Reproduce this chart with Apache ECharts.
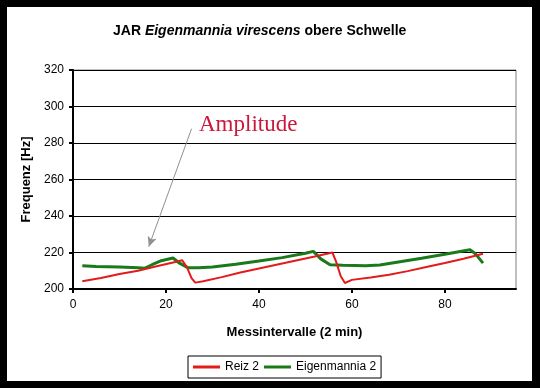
<!DOCTYPE html>
<html><head><meta charset="utf-8">
<script src="https://cdn.jsdelivr.net/npm/echarts@6/dist/echarts.min.js"></script>
<style>html,body{margin:0;padding:0;background:#000;width:540px;height:388px;overflow:hidden}
#c{position:absolute;left:7px;top:7px;width:525px;height:374px;background:#fff}</style>
</head><body><div id="c"></div>
<script>
// Reiz 2 (stimulus frequency) [interval, Hz]
const reiz2 = [[2,204.2],[6,206],[10,208.2],[14,210],[18,212.5],[22,214.8],[23.5,215.7],[24.5,212],[25.5,206],[26.3,203.5],[28,204.3],[32,206.5],[36,209],[40,211.2],[44,213.4],[48,215.6],[52,217.8],[55.8,220],[56.6,215],[57.6,207],[58.5,203.3],[60,205],[64,206.3],[68,207.8],[72,209.8],[76,212],[80,214.2],[84,216.6],[88.2,219.3]];
// Eigenmannia 2 (fish EOD frequency) [interval, Hz]
const eigen2 = [[2,212.8],[5,212.3],[10,212],[14,211.6],[15.5,211.4],[17,213.3],[19,215.5],[21.5,217],[23,214],[24.8,211.6],[27,211.7],[30,212],[35,213.6],[40,215.3],[45,217.2],[50,219.6],[51.7,220.6],[53.3,216.5],[55.3,213.3],[58,213],[63,212.8],[66,213.2],[70,214.8],[75,216.8],[80,219],[85.4,221.5],[86.5,219.5],[88.2,214.2]];
// axis ticks
const xTicks = [0,20,40,60,80];
const yTicks = [200,220,240,260,280,300,320];
// annotation arrow (data space): from label to target
const arrowFrom = [25.5, 287.8];
const arrowTo = [16.3, 223.2];

const chart = echarts.init(document.getElementById('c'));
chart.setOption({
  backgroundColor:'#fff',
  animation:false,
  textStyle:{fontFamily:'Liberation Sans, Arial, sans-serif'},
  title:{
    text:'{b|JAR }{i|Eigenmannia virescens}{b| obere Schwelle}',
    left:101, top:12,
    textStyle:{rich:{
      b:{fontFamily:'Liberation Sans',fontWeight:'bold',fontSize:14,color:'#000'},
      i:{fontFamily:'Liberation Sans',fontWeight:'bold',fontStyle:'italic',fontSize:14,color:'#000'}
    }}
  },
  grid:{left:66,top:63,right:16,bottom:92,show:true,borderColor:'#808080',borderWidth:1,backgroundColor:'#fff'},
  xAxis:{
    type:'value',min:0,max:95.3,interval:20,
    name:'Messintervalle (2 min)',nameLocation:'middle',nameGap:37,
    nameTextStyle:{fontWeight:'bold',fontSize:13,color:'#000'},
    axisLine:{lineStyle:{color:'#000',width:2}},
    axisTick:{show:true,length:4,lineStyle:{color:'#000',width:2},customValues:xTicks},
    axisLabel:{color:'#000',fontSize:12,margin:10,customValues:xTicks},
    splitLine:{show:false}
  },
  yAxis:{
    type:'value',min:200,max:320,interval:20,
    name:'Frequenz [Hz]',nameLocation:'middle',nameGap:37,
    nameTextStyle:{fontWeight:'bold',fontSize:13,color:'#000'},
    axisLine:{show:true,lineStyle:{color:'#000',width:2}},
    axisTick:{show:true,length:4,lineStyle:{color:'#000',width:2}},
    axisLabel:{color:'#000',fontSize:12,margin:9},
    splitLine:{show:true,lineStyle:{color:'#000',width:1}}
  },
  legend:{
    left:181, top:349, orient:'horizontal',
    borderColor:'#000',borderWidth:1,padding:[5,5],itemGap:5,
    itemWidth:27,itemHeight:3,icon:'rect',
    textStyle:{fontSize:12,color:'#000'},
    data:['Reiz 2','Eigenmannia 2']
  },
  graphic:[{
    type:'text', left:192, top:106,
    style:{text:'Amplitude',fontFamily:'Liberation Serif, Times New Roman, serif',fontSize:23,fill:'#c8183c'}
  }],
  series:[
    {name:'Reiz 2',type:'line',data:reiz2,showSymbol:false,symbol:'none',
     lineStyle:{color:'#e31b1b',width:2},itemStyle:{color:'#e31b1b'},z:3,
     markLine:{silent:true,symbol:['none','arrow'],symbolSize:[7,10],
       lineStyle:{color:'#909090',width:1,type:'solid'},label:{show:false},
       data:[[{coord:arrowFrom},{coord:arrowTo}]]}},
    {name:'Eigenmannia 2',type:'line',data:eigen2,showSymbol:false,symbol:'none',
     lineStyle:{color:'#1a7a1a',width:3},itemStyle:{color:'#1a7a1a'},z:2}
  ]
});
</script></body></html>
